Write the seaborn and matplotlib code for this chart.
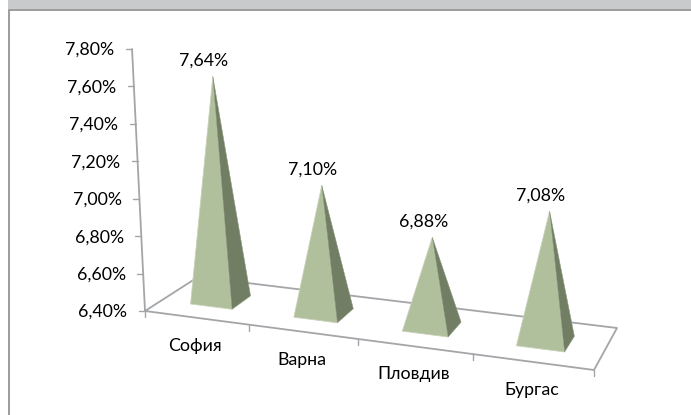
import numpy as np
import pandas as pd
import matplotlib
matplotlib.use("Agg")
import matplotlib.pyplot as plt
import seaborn as sns

cities = ["София", "Варна", "Пловдив", "Бургас"]
rates = [7.64, 7.10, 6.88, 7.08]
rate_ticks = [6.40, 6.60, 6.80, 7.00, 7.20, 7.40, 7.60, 7.80]

sns.set_theme(style="white")
plt.rcParams["font.family"] = ["Lato", "Open Sans", "DejaVu Sans"]

W, H = 691, 415
FONT = 12.8
AXIS = "#a3a5a8"
LIGHT = "#b0bf9c"
DARK = "#717e64"

# Oblique view: the floor is a perspective quad in pixels, heights run in percent.
FLOOR = np.array([[145, 311], [594, 370], [617, 328], [198, 277]], float)
BASE_RATE, PX_PER_UNIT = 6.40, 187.1
LEAN = 0.00022
LEAN_CENTRE = 370
N = len(cities)


def floor_matrix():
    src = [(0, 0), (N, 0), (N, 1), (0, 1)]
    rows, rhs = [], []
    for (u, v), (x, y) in zip(src, FLOOR):
        rows.append([u, v, 1, 0, 0, 0, -u * x, -v * x])
        rows.append([0, 0, 0, u, v, 1, -u * y, -v * y])
        rhs += [x, y]
    return np.append(np.linalg.solve(np.array(rows, float), np.array(rhs)), 1).reshape(3, 3)


MAT = floor_matrix()


def project(u, v, rate=BASE_RATE, depth_gain=1.0):
    """Category position u, floor depth v and a rate -> x pixel and y in axis units."""
    px, py, w = MAT @ np.array([u, v, 1.0])
    px, py = px / w, py / w
    rise = (rate - BASE_RATE) * PX_PER_UNIT * depth_gain
    px += rise * (px - LEAN_CENTRE) * LEAN
    return px, BASE_RATE + (311 - py) / PX_PER_UNIT + (rate - BASE_RATE) * depth_gain


def y_units(pixels):
    return BASE_RATE + pixels / PX_PER_UNIT


fig = plt.figure(figsize=(W / 100, H / 100), dpi=100, facecolor="white")
ax = fig.add_axes([0, 0, 1, 1])
ax.set_xlim(0, W)
ax.set_ylim(y_units(311 - H), y_units(311))
ax.axis("off")


def segment(points, color=AXIS, lw=1.3, z=2):
    frame = pd.DataFrame(points, columns=["x", "y"])
    sns.lineplot(data=frame, x="x", y="y", sort=False, estimator=None,
                 color=color, linewidth=lw, ax=ax, zorder=z, legend=False)


# Window frame above and left of the plot area
ax.fill([8, W, W, 8], [y_units(311 - 10), y_units(311 - 10), y_units(311), y_units(311)],
        color="#c9cacc", lw=0, zorder=1)
segment([(9.5, y_units(311 - H)), (9.5, y_units(311 - 10.5)), (W, y_units(311 - 10.5))],
        color="#9b9c9e", lw=1.4)

# Floor outline and the two axes
segment([project(0, 0), project(N, 0), project(N, 1), project(0, 1), project(0, 0)])
segment([project(0, 0), project(0, 0, rate_ticks[-1])])

for tick in rate_ticks:
    x, y = project(0, 0, tick)
    segment([(x - 6, y), (x, y)], lw=1.0)
    ax.text(x - 42, y - 1 / PX_PER_UNIT, f"{tick:.2f}%".replace(".", ","), ha="center",
            va="center", fontsize=FONT, color="black")

for i in range(N + 1):
    x, y = project(i, 0)
    segment([(x, y), (x, y - 6 / PX_PER_UNIT)], lw=1.0)

# Pyramids and labels
HALF_LEFT, HALF_RIGHT = 0.212, 0.195
V_FRONT, V_BACK = 0.30, 0.68
for i, (city, rate) in enumerate(zip(cities, rates)):
    u = i + 0.5
    gain = 0.96 + 0.0045 * u ** 2
    apex = project(u - 0.02, 0.5, rate, gain)
    left = project(u - HALF_LEFT, V_FRONT)
    front = project(u + HALF_RIGHT, V_FRONT)
    right = project(u + HALF_RIGHT, V_BACK)
    ax.fill(*zip(apex, left, front), color=LIGHT, lw=0.6, ec="#c8d2b9", zorder=4)
    ax.fill(*zip(apex, front, right), color=DARK, lw=0.4, ec="#8b977d", zorder=4)
    ax.text(apex[0] - 9, apex[1] + 16 / PX_PER_UNIT, f"{rate:.2f}%".replace(".", ","),
            ha="center", va="center", fontsize=FONT, color="black", zorder=5)
    ax_x, ax_y = project(u, 0)
    ax.text(ax_x - 1, ax_y - 28 / PX_PER_UNIT, city, ha="center", va="center",
            fontsize=FONT, color="black", zorder=5)

ax.set_xlim(0, W)
ax.set_ylim(y_units(311 - H), y_units(311))
fig.savefig("out.png", dpi=100)
